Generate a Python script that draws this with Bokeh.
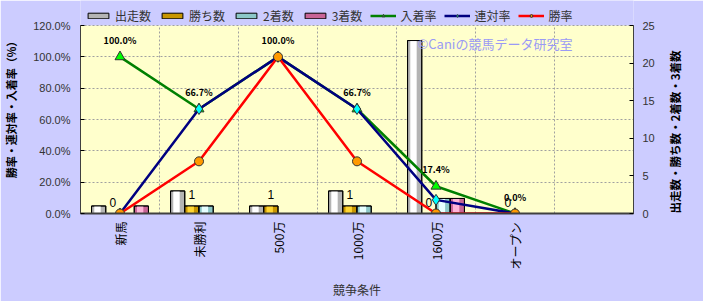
import math
from bokeh.plotting import figure
from bokeh.models import (Range1d, LinearAxis, NumeralTickFormatter, FixedTicker,
                          Legend, LegendItem, Label, BoxAnnotation)
from bokeh.core.properties import value
from bokeh.embed import file_html
from bokeh.resources import INLINE

FONT = "Noto Sans CJK JP"

# ---- data ----
categories = ["新馬", "未勝利", "500万", "1000万", "1600万", "オープン", " "]
starts = [1, 3, 1, 3, 23, 0]
wins = [0, 1, 1, 1, 0, 0]
seconds = [0, 1, 0, 1, 2, 0]
thirds = [1, 0, 0, 0, 2, 0]
win_rate = [0.0, 0.333, 1.0, 0.333, 0.0, 0.0]
rentai_rate = [0.0, 0.667, 1.0, 0.667, 0.087, 0.0]
nyuchaku_rate = [1.0, 0.667, 1.0, 0.667, 0.174, 0.0]
rate_ticks = [0.0, 0.2, 0.4, 0.6, 0.8, 1.0, 1.2]
count_ticks = [0, 5, 10, 15, 20, 25]
left_title = "勝率・連対率・入着率（%）"
right_title = "出走数・勝ち数・2着数・3着数"

n_cat = len(categories)
xc = [i + 0.5 for i in range(n_cat)]
xd = xc[:len(starts)]
rate_max = rate_ticks[-1]
count_max = count_ticks[-1]

# frame spans the full top so the legend can sit above the plot area
H, BOTTOM, AREA_H = 301, 88, 188
frame_h = H - BOTTOM
ext = frame_h / AREA_H

p = figure(width=703, height=H, output_backend="svg", toolbar_location=None,
           x_range=Range1d(0, n_cat), y_range=Range1d(0, rate_max * ext),
           min_border_left=78, min_border_right=70, min_border_top=0,
           min_border_bottom=BOTTOM)
p.background_fill_color = "#CCCCFF"
p.border_fill_color = "#CCCCFF"
p.outline_line_color = None
p.extra_y_ranges = {"cnt": Range1d(0, count_max * ext)}

p.add_layout(BoxAnnotation(left=0, right=n_cat, bottom=0, top=rate_max,
                           fill_color="#FFFFCC", fill_alpha=1, line_color=None,
                           level="image"))

# grids
p.xgrid.ticker = FixedTicker(ticks=list(range(1, n_cat)))
p.ygrid.ticker = FixedTicker(ticks=rate_ticks)
for g in (p.xgrid, p.ygrid):
    g.grid_line_color = "#A0A0A0"
    g.grid_line_dash = "2 2"
    g.grid_line_width = 1
if "cross_bounds" in p.xgrid[0].properties():
    p.xgrid.cross_bounds = (0, rate_max)
else:
    p.xgrid.grid_line_color = None
    p.segment(x0=list(range(1, n_cat)), x1=list(range(1, n_cat)),
              y0=0, y1=rate_max, line_color="#A0A0A0", line_dash="2 2",
              level="underlay")

# axes
xa = p.xaxis[0]
xa.ticker = FixedTicker(ticks=xc)
xa.major_label_overrides = {xc[i]: categories[i] for i in range(n_cat)}
xa.major_label_orientation = math.pi / 2
xa.major_tick_in = 0
xa.major_tick_out = 0
xa.minor_tick_line_color = None
xa.axis_line_color = "#404040"
xa.axis_line_width = 2
xa.major_label_text_font = FONT
xa.major_label_text_font_size = "12px"
xa.major_label_text_color = "black"
xa.major_label_standoff = 8
xa.axis_label = "競争条件"
xa.axis_label_text_font = FONT
xa.axis_label_text_font_size = "12px"
xa.axis_label_text_font_style = "normal"
xa.axis_label_text_color = "#333333"
xa.axis_label_standoff = 8

ya = p.yaxis[0]
ya.ticker = FixedTicker(ticks=rate_ticks)
ya.bounds = (0, rate_max)
ya.formatter = NumeralTickFormatter(format="0.0%")
ya.major_tick_in = 4
ya.major_tick_out = 0
ya.minor_tick_line_color = None
ya.axis_line_color = "#404040"
ya.major_label_text_font = "Liberation Sans"
ya.major_label_text_font_size = "11px"
ya.major_label_text_color = "#333333"
ya.major_label_standoff = 10
ya.axis_label = left_title
ya.axis_label_text_font = FONT
ya.axis_label_text_font_size = "11px"
ya.axis_label_text_font_style = "bold"
ya.axis_label_text_color = "black"
ya.axis_label_standoff = 11

ra = LinearAxis(y_range_name="cnt", ticker=FixedTicker(ticks=count_ticks),
                bounds=(0, count_max))
ra.major_tick_in = 4
ra.major_tick_out = 0
ra.minor_tick_line_color = None
ra.axis_line_color = "#404040"
ra.major_label_text_font = "Liberation Sans"
ra.major_label_text_font_size = "11px"
ra.major_label_text_color = "#333333"
ra.major_label_standoff = 9
ra.axis_label = right_title
ra.axis_label_text_font = FONT
ra.axis_label_text_font_size = "11.5px"
ra.axis_label_text_font_style = "bold"
ra.axis_label_text_color = "black"
ra.axis_label_standoff = 17
if "axis_label_orientation" in ra.properties():
    ra.axis_label_orientation = math.pi / 2
if "axis_label_align" in ra.properties():
    ra.axis_label_align = "start"
p.add_layout(ra, "right")

# bars
bw = 0.18
bar_specs = [
    ("出走数", starts, -0.27, "#B4B4B4", "#FFFFFF"),
    ("勝ち数", wins, -0.09, "#C89600", "#FFD633"),
    ("2着数", seconds, 0.09, "#8CC8C8", "#E6FFFF"),
    ("3着数", thirds, 0.27, "#C86496", "#FFB4D8"),
]
items = []
for name, vals, off, base, hi in bar_specs:
    xs = [x + off for x in xd]
    r = p.vbar(x=xs, top=vals, width=bw, y_range_name="cnt",
               fill_color=base, line_color="black", line_width=1)
    p.vbar(x=[x - 0.015 for x in xs], top=vals, width=bw * 0.45, y_range_name="cnt",
           fill_color=hi, line_color=None)
    p.vbar(x=xs, top=vals, width=bw, y_range_name="cnt",
           fill_color=None, line_color="black", line_width=1)
    items.append(LegendItem(label=name, renderers=[r]))

# win-count labels
p.text(x=[x - 0.09 for x in xd], y=wins, text=[str(v) for v in wins],
       y_range_name="cnt", text_font=value("Liberation Sans"), text_font_size="12px",
       text_color="black", text_align="center", text_baseline="bottom", y_offset=-7)

# lines
line_specs = [
    ("入着率", nyuchaku_rate, "#008000", "triangle", "#00FF00", 10),
    ("連対率", rentai_rate, "#000080", "diamond", "#00FFFF", 11),
    ("勝率", win_rate, "#FF0000", "circle", "#FF9900", 9),
]
for name, vals, lc, mk, mc, ms in line_specs:
    lr = p.line(x=xd, y=vals, line_color=lc, line_width=2.5)
    sr = p.scatter(x=xd, y=vals, marker=mk, size=ms, fill_color=mc,
                   line_color="#333333", line_width=1)
    items.append(LegendItem(label=name, renderers=[lr, sr]))

# rate labels
p.text(x=xd, y=nyuchaku_rate, text=[f"{v*100:.1f}%" for v in nyuchaku_rate],
       text_font=value(FONT), text_font_size="9px", text_font_style="bold",
       text_color="black", text_align="center", text_baseline="bottom", y_offset=-10)

# watermark
p.add_layout(Label(x=337, y=170, x_units="screen", y_units="screen",
                   text="©Caniの競馬データ研究室", text_font=FONT,
                   text_font_size="13px", text_color="#9A9AF5",
                   text_baseline="middle"))

legend = Legend(items=items, orientation="horizontal", location=(5, 189),
                glyph_width=26, glyph_height=7, label_height=12,
                label_text_font=FONT, label_text_font_size="12px",
                label_text_color="#333333", label_standoff=4, spacing=8,
                padding=0, margin=0, border_line_color=None,
                background_fill_alpha=0)
p.add_layout(legend)

open("out.html", "w").write(file_html(p, INLINE))
